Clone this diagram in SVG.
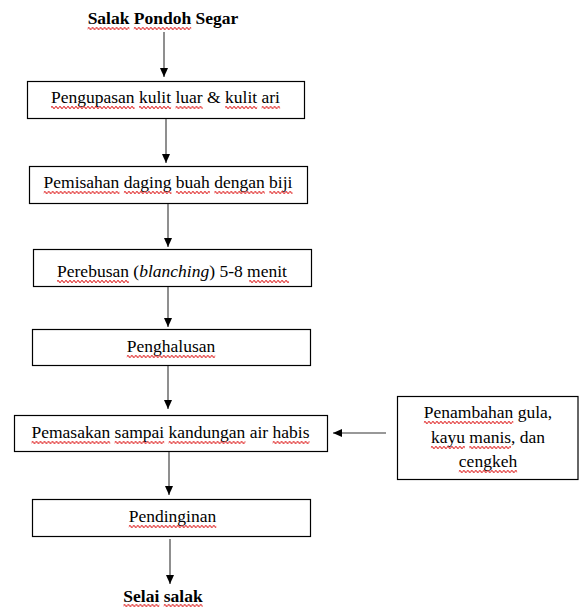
<svg xmlns="http://www.w3.org/2000/svg" width="579" height="607" viewBox="0 0 579 607">
<defs>
<marker id="ah" markerUnits="userSpaceOnUse" markerWidth="10" markerHeight="10" refX="9" refY="4" orient="auto">
<path d="M0,0 L9,4 L0,8 z" fill="#000"/>
</marker>
<pattern id="sq" patternUnits="userSpaceOnUse" width="4" height="3">
<path d="M0,1.5 L1,0.4 L2,1.5 L3,2.6 L4,1.5" fill="none" stroke="#e02828" stroke-width="1.1"/>
</pattern>
<style>
text{font-family:"Liberation Serif","Times New Roman",serif;font-size:17.5px;fill:#000;text-anchor:middle}
.b{font-weight:bold}
.box{fill:#fff;stroke:#000;stroke-width:1.2}
.c line{stroke:#333;stroke-width:1.1;marker-end:url(#ah)}
.s{fill:url(#sq)}
</style>
</defs>
<g id="n0"><text class="b" x="163" y="24"><tspan>Salak</tspan> <tspan>Pondoh</tspan> <tspan>Segar</tspan></text>
<rect class="s" transform="translate(87.6,27)" width="41.8" height="3"/>
<rect class="s" transform="translate(133.8,27)" width="57.4" height="3"/></g>
<g id="n1"><rect class="box" x="27.5" y="81.5" width="277" height="37"/><text x="165.5" y="103"><tspan>Pengupasan</tspan> <tspan>kulit</tspan> <tspan>luar</tspan> <tspan>&amp;</tspan> <tspan>kulit</tspan> <tspan>ari</tspan></text>
<rect class="s" transform="translate(51,106)" width="83.6" height="3"/>
<rect class="s" transform="translate(139,106)" width="32.1" height="3"/>
<rect class="s" transform="translate(175.5,106)" width="27.2" height="3"/>
<rect class="s" transform="translate(225.1,106)" width="32.1" height="3"/>
<rect class="s" transform="translate(261.6,106)" width="18.5" height="3"/></g>
<g id="n2"><rect class="box" x="29.5" y="166.5" width="278" height="37"/><text x="168" y="188"><tspan>Pemisahan</tspan> <tspan>daging</tspan> <tspan>buah</tspan> <tspan>dengan</tspan> <tspan>biji</tspan></text>
<rect class="s" transform="translate(43.7,191)" width="75.8" height="3"/>
<rect class="s" transform="translate(123.9,191)" width="47.6" height="3"/>
<rect class="s" transform="translate(175.9,191)" width="34" height="3"/>
<rect class="s" transform="translate(214.3,191)" width="50.5" height="3"/>
<rect class="s" transform="translate(269.2,191)" width="23.3" height="3"/></g>
<g id="n3"><rect class="box" x="33.5" y="249.5" width="278" height="37"/><text x="172" y="277"><tspan>Perebusan</tspan> (<tspan font-style="italic">blanching</tspan>) <tspan>5-8</tspan> <tspan>menit</tspan></text>
<rect class="s" transform="translate(57,280)" width="71.9" height="3"/>
<rect class="s" transform="translate(249.1,280)" width="39.9" height="3"/></g>
<g id="n4"><rect class="box" x="32.5" y="329.5" width="278" height="36"/><text x="171" y="352"><tspan>Penghalusan</tspan></text>
<rect class="s" transform="translate(126.8,355)" width="88.4" height="3"/></g>
<g id="n5"><rect class="box" x="14.5" y="415.5" width="313" height="36"/><text x="170.5" y="438"><tspan>Pemasakan</tspan> <tspan>sampai</tspan> <tspan>kandungan</tspan> <tspan>air</tspan> <tspan>habis</tspan></text>
<rect class="s" transform="translate(31.5,441)" width="78.7" height="3"/>
<rect class="s" transform="translate(114.6,441)" width="49.6" height="3"/>
<rect class="s" transform="translate(168.6,441)" width="76.8" height="3"/>
<rect class="s" transform="translate(272.6,441)" width="36.9" height="3"/></g>
<g id="n6"><rect class="box" x="397.5" y="396.5" width="180.5" height="83"/>
<text x="488" y="418"><tspan>Penambahan</tspan> <tspan>gula,</tspan></text><text x="488" y="443"><tspan>kayu</tspan> <tspan>manis</tspan>, <tspan>dan</tspan></text><text x="488" y="467"><tspan>cengkeh</tspan></text>
<rect class="s" transform="translate(423.9,421)" width="89.4" height="3"/>
<rect class="s" transform="translate(430.9,446)" width="34" height="3"/>
<rect class="s" transform="translate(469.2,446)" width="41.8" height="3"/>
<rect class="s" transform="translate(458.8,470)" width="58.3" height="3"/></g>
<g id="n7"><rect class="box" x="32.5" y="499.5" width="278" height="37"/><text x="172.5" y="522"><tspan>Pendinginan</tspan></text>
<rect class="s" transform="translate(128.8,525)" width="87.5" height="3"/></g>
<g id="n8"><text class="b" x="163" y="602"><tspan>Selai</tspan> <tspan>salak</tspan></text>
<rect class="s" transform="translate(123.4,604)" width="36" height="3"/>
<rect class="s" transform="translate(163.7,604)" width="38.9" height="3"/></g>
<g id="connectors" class="c">
<line x1="164" y1="32" x2="164" y2="77"/>
<line x1="166" y1="119" x2="166" y2="163"/>
<line x1="168" y1="204" x2="168" y2="247"/>
<line x1="168" y1="287" x2="168" y2="327"/>
<line x1="168" y1="366" x2="168" y2="409"/>
<line x1="169" y1="452" x2="169" y2="495"/>
<line x1="170" y1="539" x2="170" y2="584"/>
<line x1="386" y1="433" x2="333" y2="433"/>
</g>
</svg>
